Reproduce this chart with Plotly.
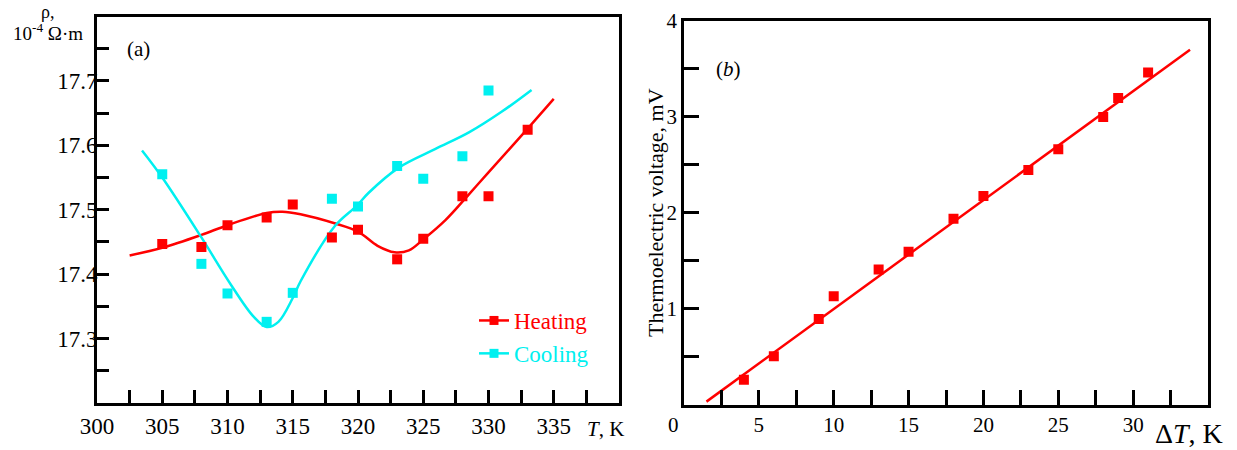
import plotly.graph_objects as go

W, H = 1237, 450
FONT = "Liberation Serif"
RED = "#ff0000"
CYAN = "#00f0f0"

# ---- panel (a) data ----
heat_T = [305, 308, 310, 313, 315, 318, 320, 323, 325, 328, 330, 333]
heat_rho = [17.447, 17.442, 17.476, 17.488, 17.508, 17.457, 17.469, 17.423, 17.455, 17.521, 17.521, 17.624]
cool_T = [305, 308, 310, 313, 315, 318, 320, 323, 325, 328, 330]
cool_rho = [17.555, 17.416, 17.370, 17.326, 17.371, 17.517, 17.505, 17.568, 17.548, 17.583, 17.685]

heat_fit_T = [302.5, 305, 308, 310, 313, 314.2, 315.6, 318.2, 320, 321.5, 322.8, 323.9, 325, 326.7, 328.5, 330, 333, 335]
heat_fit_rho = [17.429, 17.441, 17.461, 17.476, 17.495, 17.497, 17.493, 17.479, 17.466, 17.444, 17.434, 17.437, 17.454, 17.484, 17.524, 17.558, 17.626, 17.672]
cool_fit_T = [303.45, 305, 308, 310.25, 312, 313, 313.9, 315, 315.6, 318.2, 319.9, 320.8, 323.1, 325.9, 328.5, 331, 333.3]
cool_fit_rho = [17.592, 17.550, 17.457, 17.384, 17.334, 17.318, 17.326, 17.363, 17.389, 17.474, 17.506, 17.526, 17.565, 17.594, 17.620, 17.652, 17.686]

a_xticks = [300 + 2.5 * i for i in range(16)]
a_xlabels = [("%d" % v) if v % 5 == 0 and v <= 335 else "" for v in a_xticks]
a_yticks = [round(17.2 + 0.05 * i, 2) for i in range(12)]
a_ylabels = [("%.1f" % v) if abs(v * 10 - round(v * 10)) < 1e-6 and 17.3 <= v <= 17.7 else "" for v in a_yticks]

# ---- panel (b) data ----
dT = [4, 6, 9, 10, 13, 15, 18, 20, 23, 25, 28, 29, 31]
volt = [0.258, 0.502, 0.892, 1.129, 1.408, 1.592, 1.937, 2.174, 2.446, 2.662, 3.000, 3.196, 3.464]
fit_dT = [1.5, 33.8]
fit_volt = [0.03, 3.70]

b_xticks = [2.5 * i for i in range(14)]
b_xlabels = [("%d" % v) if v % 5 == 0 and v > 0 else "" for v in b_xticks]
b_yticks = [0.5 * i for i in range(9)]
b_ylabels = [("%d" % v) if v % 1 == 0 and v > 0 else "" for v in b_yticks]


def px(x):
    return x / W


def py(y):
    return (H - y) / H


fig = go.Figure()

# panel (a)
fig.add_trace(go.Scatter(x=heat_fit_T, y=heat_fit_rho, mode="lines", line=dict(color=RED, width=2.5, shape="spline", smoothing=1.0),
                         showlegend=False, xaxis="x", yaxis="y", hoverinfo="skip"))
fig.add_trace(go.Scatter(x=cool_fit_T, y=cool_fit_rho, mode="lines", line=dict(color=CYAN, width=2.5, shape="spline", smoothing=1.0),
                         showlegend=False, xaxis="x", yaxis="y", hoverinfo="skip"))
fig.add_trace(go.Scatter(x=heat_T, y=heat_rho, mode="markers", marker=dict(symbol="square", size=10, color=RED),
                         showlegend=False, xaxis="x", yaxis="y"))
fig.add_trace(go.Scatter(x=cool_T, y=cool_rho, mode="markers", marker=dict(symbol="square", size=10, color=CYAN),
                         showlegend=False, xaxis="x", yaxis="y"))
# legend entries
fig.add_trace(go.Scatter(x=[None], y=[None], mode="lines+markers", name='<span style="color:%s">Heating</span>' % RED,
                         line=dict(color=RED, width=2.5), marker=dict(symbol="square", size=9, color=RED), xaxis="x", yaxis="y"))
fig.add_trace(go.Scatter(x=[None], y=[None], mode="lines+markers", name='<span style="color:%s">Cooling</span>' % CYAN,
                         line=dict(color=CYAN, width=2.5), marker=dict(symbol="square", size=9, color=CYAN), xaxis="x", yaxis="y"))

# panel (b)
fig.add_trace(go.Scatter(x=fit_dT, y=fit_volt, mode="lines", line=dict(color=RED, width=2.5),
                         showlegend=False, xaxis="x2", yaxis="y2", hoverinfo="skip"))
fig.add_trace(go.Scatter(x=dT, y=volt, mode="markers", marker=dict(symbol="square", size=10, color=RED),
                         showlegend=False, xaxis="x2", yaxis="y2"))

axis_common = dict(showgrid=False, zeroline=False, showline=True, linecolor="black", mirror=True,
                   ticks="inside", tickcolor="black", tickwidth=2.5, automargin=False,
                   tickfont=dict(family=FONT, size=22, color="black"), tickmode="array")

fig.update_layout(
    width=W, height=H,
    margin=dict(l=0, r=0, t=0, b=0),
    paper_bgcolor="white", plot_bgcolor="white",
    font=dict(family=FONT, color="black"),
    xaxis=dict(axis_common, domain=[px(97), px(619)], range=[300, 340], tickvals=a_xticks, ticktext=a_xlabels,
               ticklen=13, linewidth=3, anchor="y", tickfont=dict(family=FONT, size=23, color="black")),
    yaxis=dict(axis_common, domain=[py(403), py(16.5)], range=[17.2, 17.8], tickvals=a_yticks, ticktext=a_ylabels,
               ticklen=12, linewidth=3, anchor="x", ticklabelstandoff=-8,
               tickfont=dict(family=FONT, size=23, color="black")),
    xaxis2=dict(axis_common, domain=[px(684), px(1208)], range=[0, 35], tickvals=b_xticks, ticktext=b_xlabels,
                ticklen=15, linewidth=2.5, anchor="y2", tickfont=dict(family=FONT, size=21, color="black")),
    yaxis2=dict(axis_common, domain=[py(404.5), py(21)], range=[0, 4], tickvals=b_yticks, ticktext=b_ylabels,
                ticklen=15, linewidth=2.5, anchor="x2", tickfont=dict(family=FONT, size=21, color="black")),
    legend=dict(x=px(474), y=py(299), xanchor="left", yanchor="top", bgcolor="rgba(0,0,0,0)",
                font=dict(family=FONT, size=23), tracegroupgap=0, itemwidth=30),
    showlegend=True,
)


def note(text, x, y, size, angle=0, xanchor="center"):
    return dict(text=text, x=px(x), y=py(y), xref="paper", yref="paper", showarrow=False,
                xanchor=xanchor, yanchor="middle", textangle=angle,
                font=dict(family=FONT, size=size, color="black"))


ann = [
    note("ρ,", 47, 12, 18),
    note("10<sup>-4</sup> Ω·m", 48, 32, 19),
    note("(a)", 138, 49, 21),
    note("<i>T</i>, K", 585, 429, 21, xanchor="left"),
    note("(<i>b</i>)", 728, 69, 21),
    note("Thermoelectric voltage, mV", 655, 213, 22, angle=-90),
    note("0", 673.5, 425, 21),
    note("Δ<i>T</i>, K", 1153, 433, 28, xanchor="left"),
]
fig.update_layout(annotations=ann)

fig.write_html("out.html")
